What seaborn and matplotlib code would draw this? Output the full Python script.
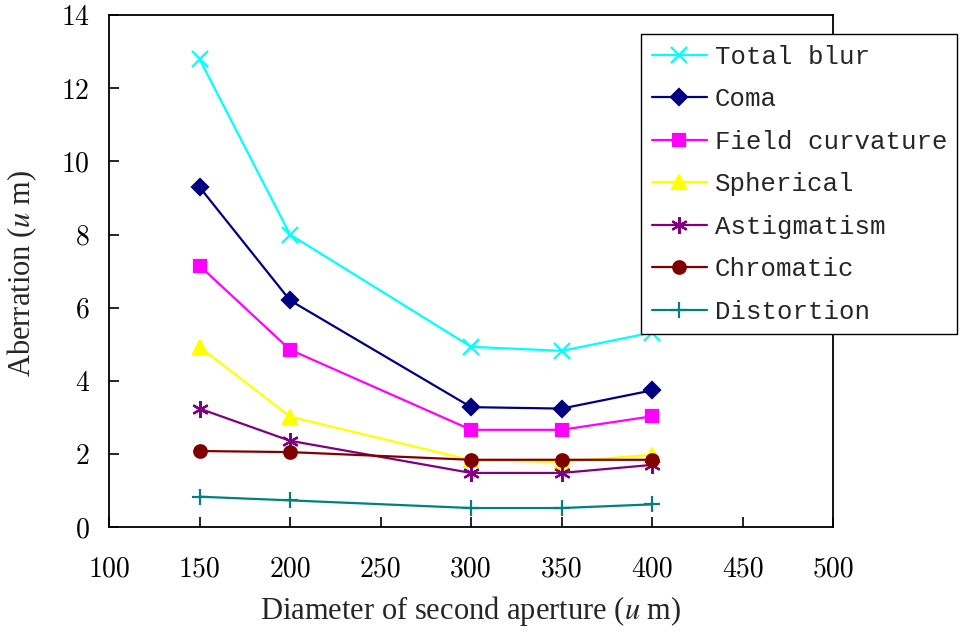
import matplotlib
matplotlib.use("Agg")
import matplotlib.pyplot as plt
import seaborn as sns
import pandas as pd

diameters = [150, 200, 300, 350, 400]
total_blur = [12.80, 8.00, 4.93, 4.82, 5.32]
coma = [9.30, 6.20, 3.28, 3.24, 3.74]
field_curvature = [7.15, 4.85, 2.66, 2.66, 3.03]
spherical = [4.93, 3.02, 1.83, 1.78, 1.98]
astigmatism = [3.24, 2.36, 1.48, 1.48, 1.70]
chromatic = [2.08, 2.05, 1.84, 1.84, 1.84]
distortion = [0.83, 0.73, 0.52, 0.52, 0.62]

series_names = ["Total blur", "Coma", "Field curvature", "Spherical",
                "Astigmatism", "Chromatic", "Distortion"]
series_values = [total_blur, coma, field_curvature, spherical,
                 astigmatism, chromatic, distortion]
x_ticks = [100, 150, 200, 250, 300, 350, 400, 450, 500]
y_ticks = [0, 2, 4, 6, 8, 10, 12, 14]

colors = ["#00FFFF", "#000080", "#FF00FF", "#FFFF00", "#800080", "#800000", "#008080"]
markers = ["x", "D", "s", "^", (6, 2, 0), "o", "+"]
msizes = [11, 8, 9, 10, 12, 9, 12]

rows = []
for name, vals in zip(series_names, series_values):
    for d, v in zip(diameters, vals):
        rows.append({"Diameter": d, "Aberration": v, "Series": name})
df = pd.DataFrame(rows)

sns.set_style("white")
plt.rcParams["mathtext.fontset"] = "stix"

fig = plt.figure(figsize=(9.63, 6.35), dpi=100)
ax = fig.add_axes([0.1132, 0.170, 0.752, 0.806])

for name, c, m, ms in zip(series_names, colors, markers, msizes):
    sub = df[df["Series"] == name]
    sns.lineplot(data=sub, x="Diameter", y="Aberration", ax=ax, color=c,
                 marker=m, markersize=ms, markeredgecolor=c, markerfacecolor=c,
                 markeredgewidth=1.6, linewidth=1.6, label=name)

ax.set_xlim(100, 500)
ax.set_ylim(0, 14)
ax.set_xticks(x_ticks)
ax.set_yticks(y_ticks)
ax.set_xticklabels([str(t) for t in x_ticks], fontfamily="cmr10", fontsize=20)
ax.set_yticklabels([str(t) for t in y_ticks], fontfamily="cmr10", fontsize=20)
ax.tick_params(axis="both", direction="in", length=7, width=1.2, colors="black",
               bottom=True, left=True)
ax.tick_params(axis="x", pad=21)
ax.tick_params(axis="y", pad=14)
for s in ax.spines.values():
    s.set_color("black")
    s.set_linewidth(1.3)

ax.set_xlabel("Diameter of second aperture ($u$ m)", fontfamily="Liberation Serif",
              fontsize=22)
ax.set_ylabel("Aberration ($u$ m)", fontfamily="Liberation Serif", fontsize=22)
ax.xaxis.set_label_coords(0.5, -0.13)
ax.yaxis.set_label_coords(-0.096, 0.495)

leg = ax.legend(loc="upper left", bbox_to_anchor=(0.666, 0.946),
                bbox_transform=fig.transFigure, borderaxespad=0,
                prop={"family": "Liberation Mono", "size": 18.5},
                frameon=True, fancybox=False, edgecolor="black",
                handlelength=2.15, labelspacing=0.72, handletextpad=0.3,
                borderpad=0.4)
leg.get_frame().set_linewidth(1.0)
leg.get_frame().set_alpha(1)

fig.savefig("out.png", dpi=100, facecolor="white")
